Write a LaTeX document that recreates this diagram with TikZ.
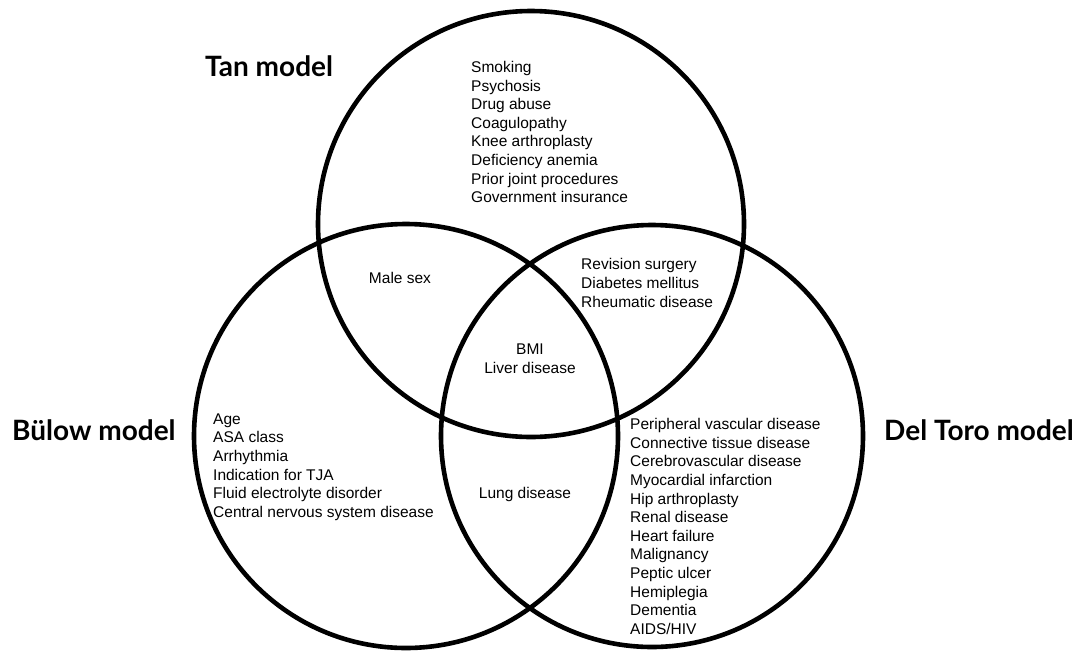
\documentclass[tikz,border=0pt]{standalone}
\usepackage{fontspec}
\setmainfont{Liberation Sans}
\newfontfamily\headfont{Lato}
\begin{document}
\begin{tikzpicture}[x=1pt,y=-1pt,
  ring/.style={draw=black,line width=4.6pt},
  body/.style={inner sep=0pt,align=left,font=\fontsize{15.5}{18.6}\selectfont},
  cbody/.style={inner sep=0pt,align=center,font=\fontsize{15.5}{18.6}\selectfont},
  head/.style={inner sep=0pt,anchor=west,font=\headfont\bfseries\fontsize{28}{32}\selectfont}]
\path[use as bounding box] (0,0) rectangle (1077,654);
\draw[ring] (531,224) circle (213);
\draw[ring] (406,436) circle (212);
\draw[ring] (652,436) circle (211);
\node[head] (tan) at (205,66) {Tan model};
\node[head] (bulow) at (12,430) {Bülow model};
\node[head] (deltoro) at (884,430) {Del Toro model};
\node[body,anchor=west] (tanonly) at (471,132) {Smoking\\Psychosis\\Drug abuse\\Coagulopathy\\Knee arthroplasty\\Deficiency anemia\\Prior joint procedures\\Government insurance};
\node[cbody] (male) at (400,278) {Male sex};
\node[body,anchor=west] (tandt) at (581,283) {Revision surgery\\Diabetes mellitus\\Rheumatic disease};
\node[cbody] (all) at (530,359) {BMI\\Liver disease};
\node[body,anchor=west] (bulowonly) at (213,467) {Age\\ASA class\\Arrhythmia\\Indication for TJA\\Fluid electrolyte disorder\\Central nervous system disease};
\node[cbody] (lung) at (525,494) {Lung disease};
\node[body,anchor=west] (dtonly) at (630,526.5) {Peripheral vascular disease\\Connective tissue disease\\Cerebrovascular disease\\Myocardial infarction\\Hip arthroplasty\\Renal disease\\Heart failure\\Malignancy\\Peptic ulcer\\Hemiplegia\\Dementia\\AIDS/HIV};
\end{tikzpicture}
\end{document}
